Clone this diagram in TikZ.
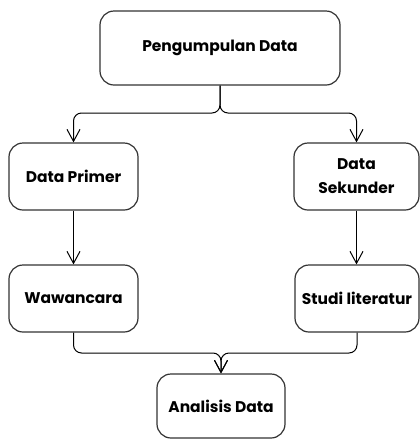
\documentclass[tikz,border=0pt]{standalone}
\usepackage{fontspec}
\setmainfont{Poppins}
\usetikzlibrary{positioning,calc,arrows.meta}

\tikzset{
    box/.style={draw=black!80, line width=1.2pt, rounded corners=14pt, fill=white,
        align=center, inner sep=2pt, font=\fontsize{15.5}{24}\selectfont\bfseries},
    link/.style={draw=black, line width=1pt, rounded corners=8pt,
        -{Straight Barb[length=12pt,width=13pt,line width=1pt]}}
}

\begin{document}
\begin{tikzpicture}[x=1pt, y=-1pt]
    \useasboundingbox (0,0) rectangle (420,440);
    % Boxes
    \node[box, minimum width=240pt, minimum height=74pt] (top) at (220,48) {Pengumpulan Data};
    \node[box, minimum width=129pt, minimum height=67pt] (dp) at (73.5,176.5) {Data Primer};
    \node[box, minimum width=125pt, minimum height=67pt] (ds) at (356.5,176.5) {Data\\Sekunder};
    \node[box, minimum width=129pt, minimum height=67pt] (ww) at (73.5,298.5) {Wawancara};
    \node[box, minimum width=124pt, minimum height=67pt] (sl) at (357,298.5) {Studi literatur};
    \node[box, minimum width=128pt, minimum height=64pt] (ad) at (221,406) {Analisis Data};

    % Connectors
    \coordinate (split) at (220,113);
    \coordinate (merge) at (221,353);
    \draw[link] (top.south) -- (split) -| (dp.north);
    \draw[link] (top.south) -- (split) -| (ds.north);
    \draw[link] (dp) -- (ww);
    \draw[link] (ds.south) -- (ds.south |- sl.north);
    \draw[link] (ww.south) |- (merge) -- (ad.north);
    \draw[link] (sl.south) |- (merge) -- (ad.north);
\end{tikzpicture}
\end{document}
